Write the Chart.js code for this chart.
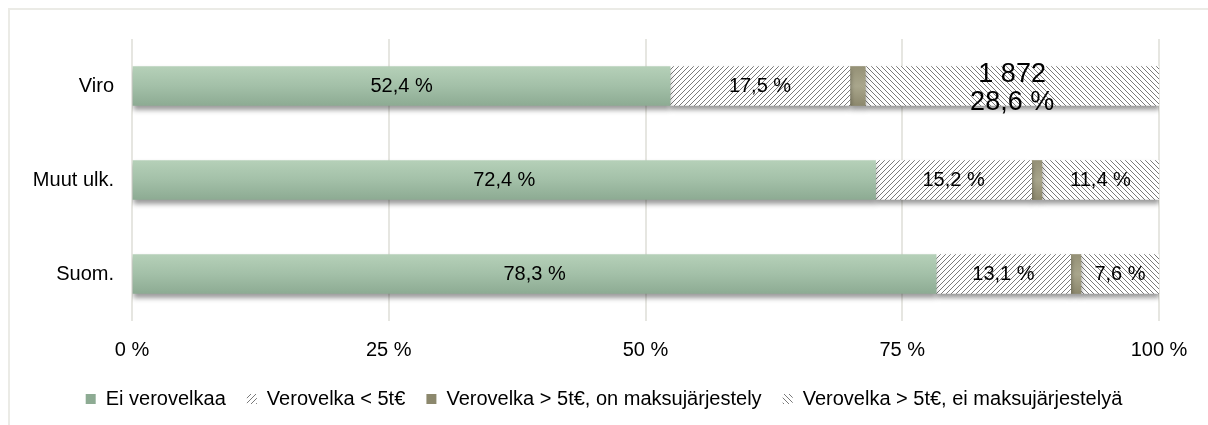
<!DOCTYPE html>
<html>
<head>
<meta charset="utf-8">
<script src="https://cdn.jsdelivr.net/npm/chart.js@4/dist/chart.umd.min.js"></script>
<style>
  body { margin: 0; background: #fff; }
  #frame { position: absolute; left: 8px; top: 8px; width: 1200px; height: 417px;
           border-top: 2px solid #ebebe6; border-left: 2px solid #ebebe6; }
  #wrap { position: absolute; left: 0; top: 0; width: 1208px; height: 425px; }
</style>
</head>
<body>
<div id="frame"></div>
<div id="wrap"><canvas id="chart"></canvas></div>
<script>
// categories and series (percent shares)
const categories = ['Viro', 'Muut ulk.', 'Suom.'];
const seriesNames = ['Ei verovelkaa', 'Verovelka < 5t€', 'Verovelka > 5t€, on maksujärjestely', 'Verovelka > 5t€, ei maksujärjestelyä'];
const eiVelkaa = [52.4, 72.4, 78.3];
const alle5 = [17.5, 15.2, 13.1];
const yli5Maksu = [1.5, 1.0, 1.0];
const yli5EiMaksu = [28.6, 11.4, 7.6];
const xTicks = [0, 25, 50, 75, 100];
// extra count shown on the Viro bar
const extraCount = ['1 872', null, null];

const FONT = '"Liberation Sans", Arial, sans-serif';

function hatch(dir) {
    const c = document.createElement('canvas');
    c.width = 5; c.height = 5;
    const g = c.getContext('2d');
    g.fillStyle = '#fff';
    g.fillRect(0, 0, 5, 5);
    g.strokeStyle = '#7a7a7a';
    g.lineWidth = 1;
    g.beginPath();
    if (dir > 0) {
        g.moveTo(-1, 6); g.lineTo(6, -1);
        g.moveTo(-1, 1); g.lineTo(1, -1);
        g.moveTo(4, 6); g.lineTo(6, 4);
    } else {
        g.moveTo(-1, -1); g.lineTo(6, 6);
        g.moveTo(4, -1); g.lineTo(6, 1);
        g.moveTo(-1, 4); g.lineTo(1, 6);
    }
    g.stroke();
    return g.createPattern(c, 'repeat');
}

const ctx = document.getElementById('chart').getContext('2d');
const BAR = 39;

function barGradient(context, stops, fallback) {
    const chart = context.chart;
    if (!chart.chartArea || !chart.scales.y || context.type !== 'data') return fallback;
    const yc = chart.scales.y.getPixelForValue(context.dataIndex);
    const gr = chart.ctx.createLinearGradient(0, yc - BAR / 2, 0, yc + BAR / 2);
    stops.forEach((s, i) => gr.addColorStop(i / (stops.length - 1), s));
    return gr;
}

const shadowPlugin = {
    id: 'barShadow',
    beforeDatasetDraw(chart) {
        const c = chart.ctx;
        c.save();
        c.shadowColor = 'rgba(0,0,0,0.4)';
        c.shadowBlur = 5;
        c.shadowOffsetY = 4;
    },
    afterDatasetDraw(chart) {
        chart.ctx.restore();
    }
};

const labelPlugin = {
    id: 'segLabels',
    afterDatasetsDraw(chart) {
        const c = chart.ctx;
        c.save();
        c.fillStyle = '#000';
        c.textAlign = 'center';
        c.textBaseline = 'middle';
        chart.data.datasets.forEach((ds, di) => {
            if (di === 2) return;
            const meta = chart.getDatasetMeta(di);
            meta.data.forEach((bar, i) => {
                const x = (bar.x + bar.base) / 2;
                const txt = ds.data[i].toFixed(1).replace('.', ',') + ' %';
                if (di === 3 && extraCount[i]) {
                    c.font = '27px ' + FONT;
                    c.fillText(extraCount[i], x, bar.y - 11);
                    c.fillText(txt, x, bar.y + 17);
                } else {
                    c.font = '20px ' + FONT;
                    c.fillText(txt, x, bar.y);
                }
            });
        });
        c.restore();
    }
};

new Chart(ctx, {
    type: 'bar',
    data: {
        labels: categories,
        datasets: [
            { label: seriesNames[0], data: eiVelkaa,
              backgroundColor: (c) => barGradient(c, ['#b5d0b8', '#a3c0a8', '#8dab93'], '#a2bfa6') },
            { label: seriesNames[1], data: alle5, backgroundColor: hatch(1) },
            { label: seriesNames[2], data: yli5Maksu,
              backgroundColor: (c) => barGradient(c, ['#959176', '#a9a68c', '#8c886d'], '#9b977c') },
            { label: seriesNames[3], data: yli5EiMaksu, backgroundColor: hatch(-1) }
        ]
    },
    options: {
        indexAxis: 'y',
        responsive: true,
        maintainAspectRatio: false,
        animation: false,
        datasets: { bar: { barThickness: BAR, borderWidth: 0 } },
        layout: { padding: { top: 39, right: 0, left: 0, bottom: 6 } },
        scales: {
            x: {
                stacked: true,
                min: 0, max: 100,
                afterBuildTicks: (s) => { s.ticks = xTicks.map(v => ({ value: v })); },
                ticks: {
                    callback: (v) => v + ' %',
                    color: '#000',
                    padding: 17,
                    font: { family: FONT, size: 20 }
                },
                grid: { color: '#e6e6e1', lineWidth: 2, drawTicks: false },
                border: { display: false }
            },
            y: {
                stacked: true,
                afterFit: (s) => { s.width = 132; },
                ticks: {
                    color: '#000',
                    padding: 10,
                    font: { family: FONT, size: 20 }
                },
                grid: { display: false },
                border: { display: false }
            },
            // empty right margin axis
            yr: {
                type: 'category',
                axis: 'y',
                position: 'right',
                labels: categories,
                afterFit: (s) => { s.width = 49; },
                ticks: { display: false },
                grid: { display: false },
                border: { display: false }
            }
        },
        plugins: {
            legend: {
                position: 'bottom',
                labels: {
                    boxWidth: 10,
                    boxHeight: 10,
                    padding: 10,
                    color: '#000',
                    font: { family: FONT, size: 20 },
                    generateLabels: (chart) => {
                        const items = Chart.defaults.plugins.legend.labels.generateLabels(chart);
                        items.forEach((it, i) => { if (i < items.length - 1) it.text += '  '; });
                        return items;
                    }
                }
            },
            tooltip: { enabled: false }
        }
    },
    plugins: [shadowPlugin, labelPlugin]
});
</script>
</body>
</html>
